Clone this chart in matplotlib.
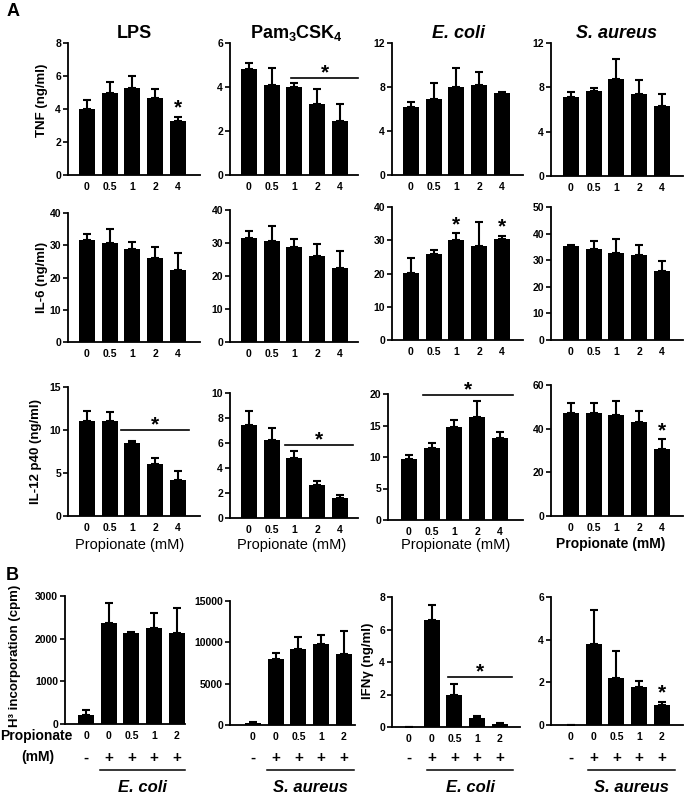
import matplotlib
matplotlib.use('Agg')
import matplotlib.pyplot as plt
from matplotlib.transforms import blended_transform_factory

plt.rcParams['font.family'] = ['Liberation Sans', 'DejaVu Sans']
plt.rcParams['mathtext.fontset'] = 'custom'
plt.rcParams['mathtext.rm'] = 'Liberation Sans'
plt.rcParams['mathtext.bf'] = 'Liberation Sans:bold'

W, H = 685, 795

# ---- data (mean, sem) ----
doses = ['0', '0.5', '1', '2', '4']
doses_b = ['0', '0', '0.5', '1', '2']
signs_b = ['-', '+', '+', '+', '+']

tnf_lps = [4.0, 5.0, 5.25, 4.67, 3.3]
tnf_lps_sem = [0.57, 0.62, 0.72, 0.53, 0.24]
tnf_pam = [4.8, 4.1, 3.98, 3.22, 2.45]
tnf_pam_sem = [0.3, 0.76, 0.2, 0.68, 0.77]
tnf_ecoli = [6.2, 6.9, 7.97, 8.15, 7.45]
tnf_ecoli_sem = [0.4, 1.47, 1.8, 1.19, 0.09]
tnf_saur = [7.12, 7.67, 8.73, 7.36, 6.36]
tnf_saur_sem = [0.48, 0.27, 1.82, 1.28, 1.0]

il6_lps = [31.5, 30.6, 28.7, 26.1, 22.4]
il6_lps_sem = [2.0, 4.4, 2.4, 3.4, 5.3]
il6_pam = [31.4, 30.7, 28.8, 26.2, 22.5]
il6_pam_sem = [2.1, 4.4, 2.4, 3.5, 5.1]
il6_ecoli = [20.1, 26.0, 30.0, 28.3, 30.4]
il6_ecoli_sem = [4.7, 1.2, 2.2, 7.3, 1.0]
il6_saur = [35.4, 34.2, 32.8, 31.9, 26.1]
il6_saur_sem = [0.4, 3.1, 5.3, 4.0, 3.5]

il12_lps = [11.0, 11.1, 8.49, 6.05, 4.22]
il12_lps_sem = [1.17, 1.0, 0.19, 0.65, 0.97]
il12_pam = [7.43, 6.23, 4.83, 2.68, 1.62]
il12_pam_sem = [1.16, 0.96, 0.55, 0.32, 0.26]
il12_ecoli = [9.68, 11.4, 14.8, 16.3, 12.96]
il12_ecoli_sem = [0.62, 0.9, 1.0, 2.6, 1.04]
il12_saur = [47.0, 47.0, 46.3, 42.9, 30.7]
il12_saur_sem = [4.6, 4.8, 6.5, 5.0, 4.4]

h3_ecoli = [218, 2377, 2130, 2245, 2130]
h3_ecoli_sem = [102, 468, 31, 350, 597]
h3_saur = [240, 8040, 9250, 9850, 8645]
h3_saur_sem = [120, 730, 1400, 1010, 2735]

ifn_ecoli = [0, 6.56, 1.95, 0.53, 0.18]
ifn_ecoli_sem = [0, 0.94, 0.68, 0.13, 0.09]
ifn_saur = [0, 3.78, 2.19, 1.79, 0.94]
ifn_saur_sem = [0, 1.6, 1.29, 0.29, 0.16]

fig = plt.figure(figsize=(W / 100, H / 100), dpi=100)
SPACING = 22.7  # px between bar centres


def make_ax(x0, x1, y0, y1, first_px):
    ax = fig.add_axes([x0 / W, 1 - y1 / H, (x1 - x0) / W, (y1 - y0) / H])
    lo = -first_px / SPACING
    ax.set_xlim(lo, lo + (x1 - x0) / SPACING)
    return ax


def draw(ax, vals, sems, ticks, labels, bar_stars=(), line_star=None):
    x = list(range(len(vals)))
    ax.bar(x, vals, width=0.7, color='black', zorder=2)
    ax.errorbar(x, vals, yerr=[[0] * len(vals), sems], fmt='none', ecolor='black',
                elinewidth=1.5, capsize=3.2, capthick=1.5, zorder=1)
    ax.set_ylim(0, ticks[-1])
    ax.set_yticks(ticks)
    ax.set_xticks(x)
    ax.set_xticklabels(labels)
    for s in ['top', 'right']:
        ax.spines[s].set_visible(False)
    for s in ['left', 'bottom']:
        ax.spines[s].set_linewidth(1.3)
    ax.tick_params(axis='x', length=0, pad=5, labelsize=7.5)
    ax.tick_params(axis='y', length=3.5, width=1.2, pad=1.5, labelsize=7.5)
    for t in ax.get_xticklabels() + ax.get_yticklabels():
        t.set_fontweight('bold')
    for i in bar_stars:
        top = vals[i] + sems[i]
        ax.annotate('*', (i, top), xytext=(0, 6), textcoords='offset points',
                    ha='center', va='center', fontsize=15, fontweight='bold')
    if line_star is not None:
        xa, xb, lev = line_star
        ax.plot([xa, xb], [lev, lev], color='black', lw=1.2, clip_on=False)
        ax.annotate('*', ((xa + xb) / 2, lev), xytext=(0, 4), textcoords='offset points',
                    ha='center', va='center', fontsize=15, fontweight='bold')


cols = [(68, 200), (230, 358), (392, 523), (551, 683)]

# Row 1 TNF
a = make_ax(*cols[0], 43, 175, 19)
draw(a, tnf_lps, tnf_lps_sem, [0, 2, 4, 6, 8], doses, bar_stars=[4])
a = make_ax(*cols[1], 43, 175, 19)
draw(a, tnf_pam, tnf_pam_sem, [0, 2, 4, 6], doses, line_star=(1.85, 4.8, 4.4))
a = make_ax(*cols[2], 43, 175, 19)
draw(a, tnf_ecoli, tnf_ecoli_sem, [0, 4, 8, 12], doses)
a = make_ax(*cols[3], 43, 176, 20)
draw(a, tnf_saur, tnf_saur_sem, [0, 4, 8, 12], doses)

# Row 2 IL-6
a = make_ax(*cols[0], 213, 342, 19)
draw(a, il6_lps, il6_lps_sem, [0, 10, 20, 30, 40], doses)
a = make_ax(*cols[1], 210, 342, 19)
draw(a, il6_pam, il6_pam_sem, [0, 10, 20, 30, 40], doses)
a = make_ax(*cols[2], 207, 340, 19)
draw(a, il6_ecoli, il6_ecoli_sem, [0, 10, 20, 30, 40], doses, bar_stars=[2, 4])
a = make_ax(*cols[3], 207, 340, 20)
draw(a, il6_saur, il6_saur_sem, [0, 10, 20, 30, 40, 50], doses)

# Row 3 IL-12 p40
a = make_ax(*cols[0], 387, 516, 19)
draw(a, il12_lps, il12_lps_sem, [0, 5, 10, 15], doses, line_star=(1.5, 4.5, 10.0))
a = make_ax(*cols[1], 393, 518, 19)
draw(a, il12_pam, il12_pam_sem, [0, 2, 4, 6, 8, 10], doses, line_star=(1.6, 4.6, 5.84))
a = make_ax(388, 523, 394, 520, 21)
draw(a, il12_ecoli, il12_ecoli_sem, [0, 5, 10, 15, 20], doses, line_star=(0.62, 4.58, 19.8))
a = make_ax(*cols[3], 385, 516, 20)
draw(a, il12_saur, il12_saur_sem, [0, 20, 40, 60], doses, bar_stars=[4])

# Panel B
b_axes = []
a = make_ax(65, 185, 596, 724, 21)
draw(a, h3_ecoli, h3_ecoli_sem, [0, 1000, 2000, 3000], doses_b)
b_axes.append((a, 'E. coli', (0.6, 4.35)))
a = make_ax(230, 355, 601, 725, 23)
draw(a, h3_saur, h3_saur_sem, [0, 5000, 10000, 15000], doses_b)
b_axes.append((a, 'S. aureus', (0.6, 4.45)))
a = make_ax(392, 520, 597, 727, 17)
draw(a, ifn_ecoli, ifn_ecoli_sem, [0, 2, 4, 6, 8], doses_b, line_star=(1.72, 4.54, 3.08))
b_axes.append((a, 'E. coli', (0.8, 4.6)))
a = make_ax(551, 683, 597, 725, 20)
draw(a, ifn_saur, ifn_saur_sem, [0, 2, 4, 6], doses_b, bar_stars=[4])
b_axes.append((a, 'S. aureus', (0.75, 4.6)))

for ax, name, (xa, xb) in b_axes:
    tr = blended_transform_factory(ax.transData, fig.transFigure)
    for i, s in enumerate(signs_b):
        ax.text(i, 1 - 758 / H, s, transform=tr, ha='center', va='center',
                fontsize=11, fontweight='bold')
    ax.plot([xa, xb], [1 - 770 / H] * 2, transform=tr, color='black', lw=1.1,
            clip_on=False)
    ax.text((xa + xb) / 2, 1 - 788 / H, name, transform=tr, ha='center', va='center',
            fontsize=12, style='italic', fontweight='bold')


def ftext(x, y, s, **kw):
    fig.text(x / W, 1 - y / H, s, ha='center', va='center', **kw)


# titles
ftext(134, 33, 'LPS', fontsize=13, fontweight='bold')
ftext(296, 33, r'Pam$_\mathbf{3}$CSK$_\mathbf{4}$', fontsize=13, fontweight='bold')
ftext(458, 33, 'E. coli', fontsize=13, fontweight='bold', style='italic')
ftext(617, 33, 'S. aureus', fontsize=13, fontweight='bold', style='italic')

# y labels
ftext(42, 100, 'TNF (ng/ml)', fontsize=9.5, fontweight='bold', rotation=90)
ftext(42, 277, 'IL-6 (ng/ml)', fontsize=9.5, fontweight='bold', rotation=90)
ftext(36, 451, 'IL-12 p40 (ng/ml)', fontsize=9.5, fontweight='bold', rotation=90)
ftext(15, 656, 'H³ incorporation (cpm)', fontsize=9.5, fontweight='bold', rotation=90)
ftext(368, 661, 'IFNγ (ng/ml)', fontsize=9.5, fontweight='bold', rotation=90)

# x labels row 3
ftext(130, 545, 'Propionate (mM)', fontsize=10.5)
ftext(292, 545, 'Propionate (mM)', fontsize=10.5)
ftext(456, 545, 'Propionate (mM)', fontsize=10.5)
ftext(611, 544, 'Propionate (mM)', fontsize=10, fontweight='bold')

# panel B row labels
ftext(36, 736, 'Propionate', fontsize=10, fontweight='bold')
ftext(38, 757, '(mM)', fontsize=10, fontweight='bold')

# panel letters
ftext(13, 12, 'A', fontsize=13, fontweight='bold')
ftext(12, 576, 'B', fontsize=13, fontweight='bold')

fig.savefig('out.png', dpi=100)
